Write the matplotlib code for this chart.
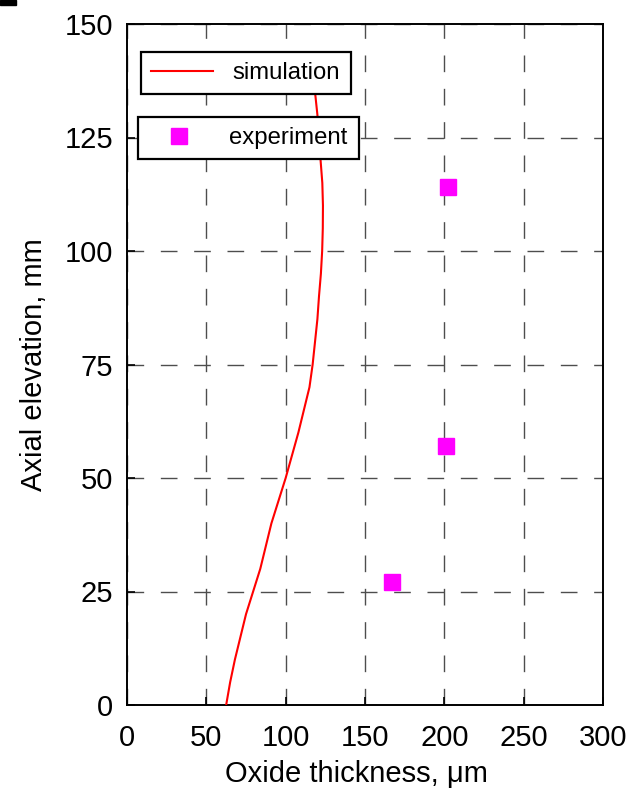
import matplotlib
matplotlib.use("Agg")
import matplotlib.pyplot as plt
from matplotlib.lines import Line2D
from matplotlib.patches import Rectangle

plt.rcParams['font.family'] = ['Liberation Sans', 'DejaVu Sans']

# Simulation curve (oxide thickness, um vs axial elevation, mm)
sim_thickness = [62.5, 65, 68, 71.5, 75, 79.5, 84, 87.5, 91, 95.5, 100, 104, 108, 111.5, 115,
                 117, 118.5, 120, 121, 122.2, 123, 123.4, 123.5, 123.1, 122, 121, 120, 118.5, 117]
sim_elevation = [0, 5, 10, 15, 20, 25, 30, 35, 40, 45, 50, 55, 60, 65, 70,
                 75, 80, 85, 90, 95, 100, 105, 110, 115, 120, 125, 130, 135, 140]

# Experimental points
exp_thickness = [167, 201, 202]
exp_elevation = [27, 57, 114]

x_ticks = [0, 50, 100, 150, 200, 250, 300]
y_ticks = [0, 25, 50, 75, 100, 125, 150]

W, H = 633, 792
fig = plt.figure(figsize=(W / 100, H / 100), dpi=100)
ax = fig.add_axes([127 / W, 1 - 705 / H, (603 - 127) / W, (705 - 24) / H])

ax.plot(sim_thickness, sim_elevation, color='red', lw=1.5, label='simulation', zorder=3)
ax.plot(exp_thickness, exp_elevation, ls='none', marker='s', ms=12, color='magenta',
        markeredgecolor='magenta', label='experiment', zorder=4)

ax.set_xlim(0, 300)
ax.set_ylim(0, 150)
ax.set_xticks(x_ticks)
ax.set_yticks(y_ticks)
ax.tick_params(direction='in', length=6, width=1.2, labelsize=21, top=False, right=False)
ax.tick_params(axis='x', pad=14)
ax.tick_params(axis='y', pad=10)
ax.grid(True, color='#4d4d4d', lw=1.0, linestyle=(0, (12, 12)))
ax.set_axisbelow(True)
for s in ax.spines.values():
    s.set_linewidth(1.4)

ax.set_xlabel('Oxide thickness, μm', fontsize=21, labelpad=3)
ax.xaxis.set_label_coords(0.481, -0.081)
ax.set_ylabel('Axial elevation, mm', fontsize=21, labelpad=12)

h1 = Line2D([], [], color='red', lw=1.5)
h2 = Line2D([], [], ls='none', marker='s', ms=12, color='magenta')

def fig_box(x0, y0, x1, y1):
    return (x0 / W, 1 - y1 / H, (x1 - x0) / W, (y1 - y0) / H)

leg1 = ax.legend([h1], ['simulation'], loc='upper left', mode='expand',
                 bbox_to_anchor=fig_box(141, 52, 351, 98), bbox_transform=fig.transFigure,
                 fontsize=17.2, frameon=True, fancybox=False, framealpha=1,
                 edgecolor='black', borderpad=0.42, borderaxespad=0,
                 handlelength=2.6, handletextpad=0.8)
leg1.get_frame().set_linewidth(1.6)
ax.add_artist(leg1)
leg2 = ax.legend([h2], ['experiment'], loc='upper left', mode='expand',
                 bbox_to_anchor=fig_box(138, 117, 359, 164), bbox_transform=fig.transFigure,
                 fontsize=17.2, frameon=True, fancybox=False, framealpha=1,
                 edgecolor='black', borderpad=0.42, borderaxespad=0,
                 handlelength=2.6, handletextpad=0.8)
leg2.get_frame().set_linewidth(1.6)

fig.patches.append(Rectangle((0, 1 - 5 / H), 16 / W, 5 / H, transform=fig.transFigure,
                             color='black', figure=fig))

fig.savefig('out.png', dpi=100)
